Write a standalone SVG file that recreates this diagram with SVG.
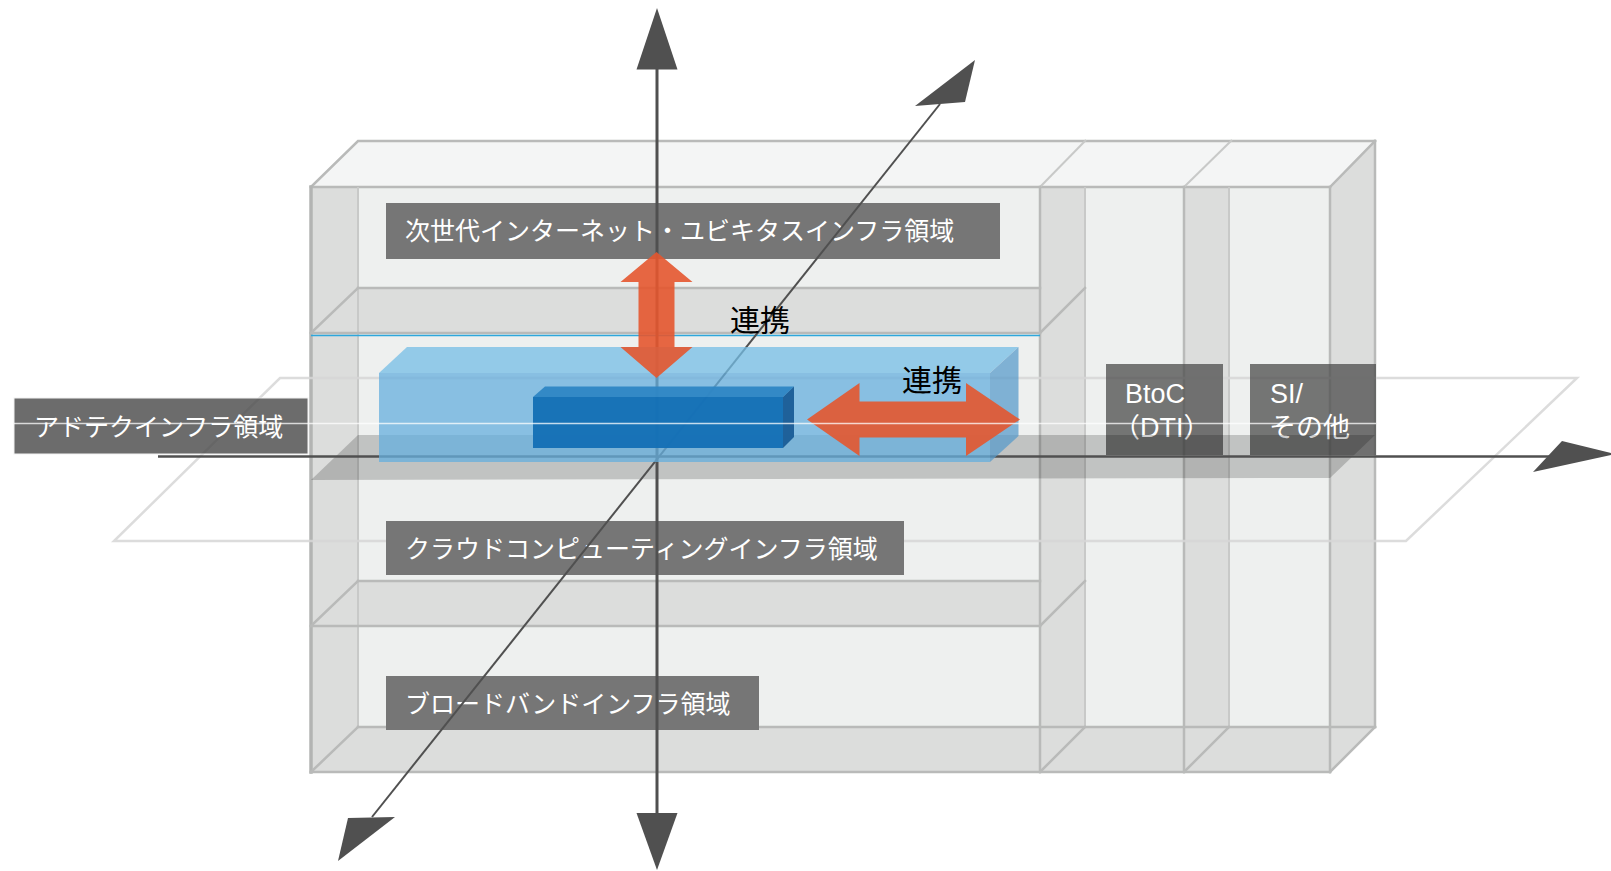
<svg xmlns="http://www.w3.org/2000/svg" width="1611" height="871" viewBox="0 0 1611 871">
  <style>
    .face { fill: #dcdddc; }
    .edge { stroke: #b9bab9; stroke-width: 2.5; fill: none; stroke-linecap: square; }
    .edge-l { stroke: #c8c9c8; stroke-width: 2; fill: none; }
    .plane { stroke: #d6d6d6; stroke-width: 2.5; fill: none; opacity: 0.85; }
    .lbl { fill: #4d4d4d; opacity: 0.76; }
    .lbl-solid { fill: #767676; }
    .jp { font-family: "Noto Sans CJK JP", "Noto Sans CJK SC", sans-serif; fill: #ffffff; font-size: 25px; }
    .lat { font-family: "Liberation Sans", "Noto Sans CJK JP", sans-serif; fill: #ffffff; font-size: 27px; }
    .axis { stroke: #505050; fill: none; }
    .head { fill: #505050; }
    .red { fill: #e4562f; opacity: 0.9; }
    .link { font-family: "Noto Sans CJK JP", "Noto Sans CJK SC", sans-serif; fill: #000000; font-size: 30px; }
  </style>

  <!-- cabinet structure -->
  <g id="cabinet">
    <polygon points="311,187 358,141 1375,141 1330,187" fill="#f4f5f5"/>
    <polygon points="1330,187 1375,141 1375,727 1330,772" class="face"/>
    <rect x="311" y="187" width="1019" height="585" fill="#eef0ef"/>
    <rect x="311" y="187" width="47" height="585" class="face"/>
    <rect x="1040" y="187" width="45" height="585" class="face"/>
    <rect x="1184" y="187" width="45" height="585" class="face"/>
    <polygon points="311,333 1040,333 1085,288 358,288" class="face"/>
    <polygon points="311,626 1040,626 1085,581 358,581" class="face"/>
    <polygon points="311,772 1330,772 1375,727 358,727" class="face"/>

    <!-- top -->
    <polyline class="edge" points="311,187 358,141 1375,141"/>
    <line class="edge" x1="311" y1="187" x2="1330" y2="187"/>
    <line class="edge-l" x1="1040" y1="187" x2="1086" y2="140"/>
    <line class="edge-l" x1="1184" y1="187" x2="1232" y2="140"/>
    <line class="edge" x1="1330" y1="187" x2="1375" y2="141"/>
    <!-- verticals -->
    <line class="edge" x1="311" y1="187" x2="311" y2="772" style="stroke-width:3.5;stroke:#b3b4b3"/>
    <line class="edge-l" x1="358" y1="187" x2="358" y2="727"/>
    <line class="edge" x1="1040" y1="187" x2="1040" y2="772"/>
    <line class="edge-l" x1="1085" y1="187" x2="1085" y2="727"/>
    <line class="edge" x1="1184" y1="187" x2="1184" y2="772"/>
    <line class="edge-l" x1="1229" y1="187" x2="1229" y2="727"/>
    <line class="edge" x1="1330" y1="187" x2="1330" y2="772"/>
    <line class="edge" x1="1375" y1="141" x2="1375" y2="727"/>
    <!-- shelf 1 -->
    <line class="edge" x1="358" y1="288" x2="1040" y2="288"/>
    <line class="edge" x1="311" y1="333" x2="1040" y2="333"/>
    <line class="edge" x1="311" y1="333" x2="358" y2="288"/>
    <line class="edge" x1="1040" y1="333" x2="1085" y2="288"/>
    <line x1="311" y1="335.5" x2="1040" y2="335.5" stroke="#2ea7dc" stroke-width="1.6"/>
    <!-- shelf 3 -->
    <line class="edge" x1="358" y1="581" x2="1040" y2="581"/>
    <line class="edge" x1="311" y1="626" x2="1040" y2="626"/>
    <line class="edge" x1="311" y1="626" x2="358" y2="581"/>
    <line class="edge" x1="1040" y1="626" x2="1085" y2="581"/>
    <!-- floor -->
    <line class="edge" x1="358" y1="727" x2="1375" y2="727"/>
    <line class="edge" x1="311" y1="772" x2="1330" y2="772"/>
    <line class="edge" x1="311" y1="772" x2="358" y2="727"/>
    <line class="edge" x1="1040" y1="772" x2="1085" y2="727"/>
    <line class="edge" x1="1184" y1="772" x2="1229" y2="727"/>
    <line class="edge" x1="1330" y1="772" x2="1375" y2="727"/>
  </g>

  <!-- horizontal plane -->
  <g id="plane">
    <polygon class="plane" points="280,378 1577,378 1406,541 114,541"/>
  </g>

  <!-- region labels -->
  <g id="node-nextgen">
    <rect class="lbl-solid" x="386" y="203" width="614" height="56"/>
    <text class="jp" x="405" y="240">次世代インターネット・ユビキタスインフラ領域</text>
  </g>
  <g id="node-adtech">
    <rect class="lbl" x="14" y="398" width="294" height="56" stroke="#f0f0f0" stroke-width="1" style="opacity:0.82"/>
    <text class="jp" x="34" y="436">アドテクインフラ領域</text>
  </g>
  <g id="node-cloud">
    <rect class="lbl-solid" x="386" y="521" width="518" height="54"/>
    <text class="jp" x="405" y="558">クラウドコンピューティングインフラ領域</text>
  </g>
  <g id="node-broadband">
    <rect class="lbl-solid" x="386" y="676" width="373" height="54"/>
    <text class="jp" x="405" y="713">ブロードバンドインフラ領域</text>
  </g>
  <g id="node-btoc">
    <rect class="lbl" x="1106" y="364" width="117" height="91"/>
    <text class="lat" x="1125" y="402.5">BtoC</text>
    <text class="lat" x="1113" y="436.5">（DTI）</text>
  </g>
  <g id="node-si">
    <rect class="lbl" x="1250" y="364" width="126" height="91"/>
    <text class="lat" x="1270" y="402.5">SI/</text>
    <text class="lat" x="1269" y="436.5">その他</text>
  </g>

  <!-- middle shelf (translucent) -->
  <polygon id="shelf-mid" points="311,480 1330,478 1375,435 358,435" fill="#000000" opacity="0.19"/>

  <!-- connectors: axes -->
  <g id="connectors">
    <line class="axis" x1="657" y1="66" x2="657" y2="816" stroke-width="3"/>
    <polygon class="head" points="657,8 677.5,69.5 636.5,69.5"/>
    <polygon class="head" points="636.5,813 677.5,813 657,870"/>
    <line class="axis" x1="372" y1="817" x2="940" y2="104" stroke-width="2"/>
    <polygon class="head" points="975,60 965,102 915,106"/>
    <polygon class="head" points="338,861 348,818 395,817"/>
    <line class="axis" x1="158" y1="456.5" x2="1550" y2="456.5" stroke-width="2.5"/>
    <polygon class="head" points="1562,441 1615,454 1533,472"/>
  </g>

  <!-- core blocks -->
  <g id="node-core">
    <g opacity="0.75">
      <polygon points="379,373 407,347 1018.5,347 990,373" fill="#75bee6"/>
      <rect x="379" y="373" width="611" height="89" fill="#66afde"/>
      <polygon points="990,373 1018.5,347 1018.5,436 990,462" fill="#5a9ccb"/>
    </g>
    <g opacity="0.96">
      <polygon points="533,397 545,386.5 794,386.5 783,397" fill="#3087c5"/>
      <rect x="533" y="397" width="250" height="51" fill="#1470b6"/>
      <polygon points="783,397 794,386.5 794,437 783,448" fill="#1b5e98"/>
    </g>
  </g>

  <!-- cooperation arrows -->
  <g id="links">
    <polygon class="red" points="656.5,252 692.5,282 674.5,282 674.5,347 692.5,347 656.5,378 620.5,347 638.5,347 638.5,282 620.5,282"/>
    <polygon class="red" points="807,419.5 859.5,383 859.5,401.5 966,401.5 966,383 1020,419.5 966,456 966,437.5 859.5,437.5 859.5,456"/>
    <text class="link" x="730" y="331">連携</text>
    <text class="link" x="902" y="391">連携</text>
  </g>

  <line x1="14" y1="423.5" x2="1376" y2="423.5" stroke="#ffffff" stroke-width="1.3" opacity="0.75"/>
</svg>
